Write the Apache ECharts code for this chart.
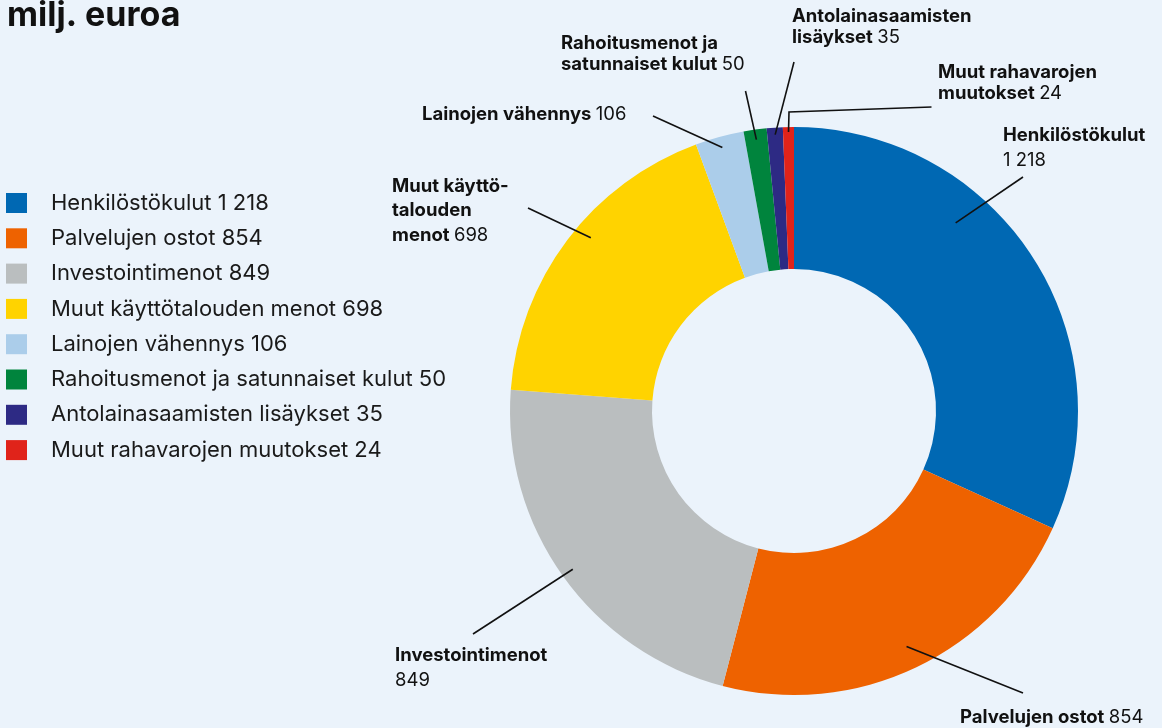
<!DOCTYPE html>
<html><head><meta charset="utf-8">
<script src="https://cdn.jsdelivr.net/npm/echarts@6/dist/echarts.min.js"></script>
<style>html,body{margin:0;padding:0;background:#EBF3FB}#c{width:1162px;height:728px}</style>
</head><body><div id="c"></div>
<script>
// ---- data ----
const categories = ['Henkilöstökulut','Palvelujen ostot','Investointimenot','Muut käyttötalouden menot','Lainojen vähennys','Rahoitusmenot ja satunnaiset kulut','Antolainasaamisten lisäykset','Muut rahavarojen muutokset'];
const values = [1218, 854, 849, 698, 106, 50, 35, 24];
const labelNameLines = [['Henkilöstökulut'],['Palvelujen ostot'],['Investointimenot'],['Muut käyttö-','talouden','menot'],['Lainojen vähennys'],['Rahoitusmenot ja','satunnaiset kulut'],['Antolainasaamisten','lisäykset'],['Muut rahavarojen','muutokset']];
const valueOnOwnLine = [true,false,true,false,false,false,false,false];
const colors = ['#0068B3','#EE6200','#BABEBF','#FFD300','#ABCDEA','#00843D','#2D2A84','#E0231A'];

// ---- layout (annotation placement) ----
const CX = 794, CY = 411, R0 = 142, R1 = 284;
const labelPos = [
  {x:1003,y:123,lh:25},{x:960,y:705,lh:24},{x:395,y:643,lh:25},{x:392,y:174,lh:24.5},
  {x:422,y:102,lh:24},{x:561,y:33,lh:21},{x:792,y:6,lh:21},{x:938,y:62,lh:21}
];
const anchorOffsetDeg = [-16.5,0,0,3.4,0,0,0,0];
const anchorR = [248,261,272,267,273,274,277,279];
const lineEnds = [[[1023,177]],[[1023,693]],[[473,634]],[[528,208]],[[653,116]],[[745.5,91]],[[794,62]],[[789,112],[931.5,107]]];

const fmt = v => String(v).replace(/\B(?=(\d{3})+(?!\d))/g, '\u00a0');
const total = values.reduce((a,b)=>a+b,0);
const midAngles = []; {let c=0; values.forEach(v=>{midAngles.push((c+v/2)/total*360); c+=v;});}

const FONT = 'Inter, "Noto Sans", sans-serif';
const LF = 18.5;
const chart = echarts.init(document.getElementById('c'), null, {renderer:'canvas'});
chart.setOption({
  backgroundColor:'#EBF3FB',
  animation:false,
  title:{text:'milj. euroa', left:2, top:-6, textStyle:{fontSize:34, fontWeight:'bold', fontFamily:FONT, color:'#111'}},
  legend:{
    orient:'vertical', left:6, top:192, padding:0, itemWidth:21, itemHeight:20, itemGap:13.3, icon:'rect', selectedMode:false,
    data:categories,
    formatter: n => n + ' ' + fmt(values[categories.indexOf(n)]),
    textStyle:{fontSize:22, fontFamily:FONT, color:'#1a1a1a', padding:[0,0,0,19]}
  },
  series:[{
    type:'pie', z:2, center:[CX,CY], radius:[R0,R1], startAngle:90, clockwise:true,
    emphasis:{disabled:true}, silent:true,
    data: categories.map((c,i)=>({name:c, value:values[i], itemStyle:{color:colors[i]}})),
    label:{show:false}, labelLine:{show:false}
  },{
    type:'pie', z:5, center:[CX,CY], radius:[R0,R1], startAngle:90, clockwise:true,
    avoidLabelOverlap:false, emphasis:{disabled:true}, silent:true, legendHoverLink:false,
    data: categories.map((c,i)=>({name:c, value:values[i], itemStyle:{color:'rgba(0,0,0,0)'},
      label:{rich:{b:{lineHeight:labelPos[i].lh}, v:{lineHeight:labelPos[i].lh}}}})),
    label:{
      show:true, position:'outside',
      formatter: p => {
        const i = p.dataIndex, L = labelNameLines[i].slice(), v = fmt(values[i]);
        const out = L.map((t,k)=> (k===L.length-1 && !valueOnOwnLine[i]) ? '{b|'+t+' }{v|'+v+'}' : '{b|'+t+'}');
        if (valueOnOwnLine[i]) out.push('{v|'+v+'}');
        return out.join('\n');
      },
      rich:{
        b:{fontSize:LF, fontWeight:'bold', fontFamily:FONT, color:'#111'},
        v:{fontSize:LF, fontWeight:'normal', fontFamily:FONT, color:'#111'}
      }
    },
    labelLine:{show:true, smooth:false, lineStyle:{color:'#111', width:1.6, opacity:1}},
    labelLayout: p => {
      const i = p.dataIndex, lp = labelPos[i];
      const a = (midAngles[i] + anchorOffsetDeg[i]) * Math.PI/180;
      const anchor = [CX + anchorR[i]*Math.sin(a), CY - anchorR[i]*Math.cos(a)];
      const e = lineEnds[i];
      const pts = e.length === 1 ? [anchor, e[0], e[0]] : [anchor, e[0], e[1]];
      return {x:lp.x, y:lp.y, align:'left', verticalAlign:'top', labelLinePoints:pts};
    }
  }]
});
</script></body></html>
